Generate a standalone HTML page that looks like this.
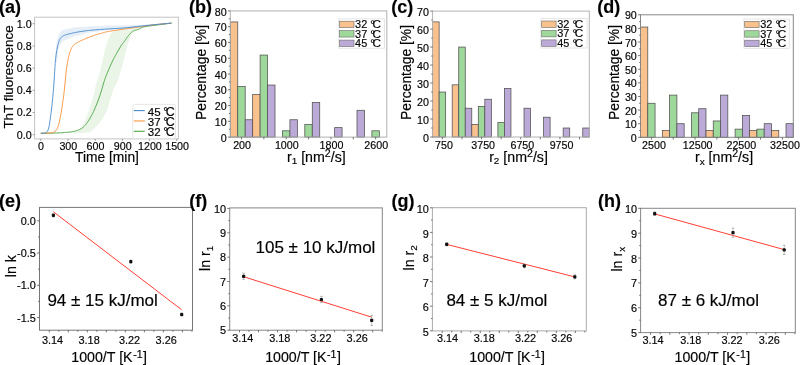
<!DOCTYPE html><html><head><meta charset="utf-8"><style>html,body{margin:0;padding:0;background:#fff;width:800px;height:365px;overflow:hidden}#w{position:absolute;left:0;top:0;width:800px;height:365px;will-change:transform}svg{display:block}text{font-family:"Liberation Sans", sans-serif}</style></head><body><div id="w">
<svg width="800" height="365" viewBox="0 0 800 365">
<rect width="800" height="365" fill="#fff"/>
<path d="M55.6,62 L55.6,52 L57.1,38.8 L60,32.5 L62.8,29.9 L75,27.3 L94.3,26.2 L110,25.6 L130,25.2 L150,24.5 L171.5,22.8 L171.5,23.4 L150,25.4 L130,27.8 L110,29.9 L99.8,31.2 L88.8,32.8 L75,36 L62.8,41.3 L60,45 L58.2,49.8 L57,62 Z" fill="#e6eef8" stroke="none"/>
<path d="M72,133.2 L79.3,130.2 L84.6,122.6 L89.1,110 L93.5,96 L96.2,84 L99.5,74 L102.6,61.3 L105,50 L107.6,41.6 L110.5,34.5 L114.5,31 L120,29.3 L126,28.3 L134,27.3 L142,26.5 L142,28.2 L136,30.3 L132,33.5 L127.5,45 L123.5,60 L120.5,72 L116.8,83 L113.8,88.2 L110,100 L107.2,110 L101.9,119.4 L97,126 L90,132.2 L74,133.5 Z" fill="#eaf4e7" stroke="none"/>
<rect x="34.6" y="17.2" width="143.8" height="121.7" fill="none" stroke="#c4c4c4" stroke-width="1.0"/>
<line x1="34.6" y1="134.7" x2="32.6" y2="134.7" stroke="#888" stroke-width="0.8"/>
<text x="31.6" y="138.6" font-size="10.7" text-anchor="end" stroke="#141414" stroke-width="0.18" >0.0</text>
<line x1="34.6" y1="112.5" x2="32.6" y2="112.5" stroke="#888" stroke-width="0.8"/>
<text x="31.6" y="116.4" font-size="10.7" text-anchor="end" stroke="#141414" stroke-width="0.18" >0.2</text>
<line x1="34.6" y1="90.3" x2="32.6" y2="90.3" stroke="#888" stroke-width="0.8"/>
<text x="31.6" y="94.2" font-size="10.7" text-anchor="end" stroke="#141414" stroke-width="0.18" >0.4</text>
<line x1="34.6" y1="68.1" x2="32.6" y2="68.1" stroke="#888" stroke-width="0.8"/>
<text x="31.6" y="72" font-size="10.7" text-anchor="end" stroke="#141414" stroke-width="0.18" >0.6</text>
<line x1="34.6" y1="45.9" x2="32.6" y2="45.9" stroke="#888" stroke-width="0.8"/>
<text x="31.6" y="49.8" font-size="10.7" text-anchor="end" stroke="#141414" stroke-width="0.18" >0.8</text>
<line x1="34.6" y1="23.7" x2="32.6" y2="23.7" stroke="#888" stroke-width="0.8"/>
<text x="31.6" y="27.6" font-size="10.7" text-anchor="end" stroke="#141414" stroke-width="0.18" >1.0</text>
<line x1="40.8" y1="138.9" x2="40.8" y2="140.9" stroke="#888" stroke-width="0.8"/>
<text x="41.1" y="150.3" font-size="10.7" text-anchor="middle" stroke="#141414" stroke-width="0.18" >0</text>
<line x1="68" y1="138.9" x2="68" y2="140.9" stroke="#888" stroke-width="0.8"/>
<text x="68.3" y="150.3" font-size="10.7" text-anchor="middle" stroke="#141414" stroke-width="0.18" >300</text>
<line x1="95.2" y1="138.9" x2="95.2" y2="140.9" stroke="#888" stroke-width="0.8"/>
<text x="95.5" y="150.3" font-size="10.7" text-anchor="middle" stroke="#141414" stroke-width="0.18" >600</text>
<line x1="122.4" y1="138.9" x2="122.4" y2="140.9" stroke="#888" stroke-width="0.8"/>
<text x="122.7" y="150.3" font-size="10.7" text-anchor="middle" stroke="#141414" stroke-width="0.18" >900</text>
<line x1="149.6" y1="138.9" x2="149.6" y2="140.9" stroke="#888" stroke-width="0.8"/>
<text x="149.9" y="150.3" font-size="10.7" text-anchor="middle" stroke="#141414" stroke-width="0.18" >1200</text>
<line x1="176.8" y1="138.9" x2="176.8" y2="140.9" stroke="#888" stroke-width="0.8"/>
<text x="177.1" y="150.3" font-size="10.7" text-anchor="middle" stroke="#141414" stroke-width="0.18" >1500</text>
<path d="M40.8,133.3 L41.02,133.3 L41.47,133.29 L42.13,133.28 L43.02,133.27 L44.13,133.25 L45.46,133.23 L47.01,133.21 L48.79,133.19 L50.5,133.16 L52.14,133.12 L53.72,133.08 L55.23,133.04 L56.68,132.99 L58.06,132.94 L59.38,132.88 L60.62,132.82 L61.86,132.75 L63.08,132.67 L64.28,132.58 L65.47,132.49 L66.64,132.39 L67.8,132.28 L68.94,132.16 L70.06,132.04 L71.14,131.9 L72.18,131.74 L73.17,131.56 L74.11,131.37 L75.01,131.15 L75.86,130.93 L76.67,130.68 L77.43,130.42 L78.17,130.13 L78.9,129.82 L79.61,129.49 L80.29,129.13 L80.96,128.75 L81.61,128.35 L82.24,127.92 L82.86,127.47 L83.47,126.97 L84.09,126.4 L84.7,125.77 L85.32,125.08 L85.94,124.33 L86.56,123.53 L87.19,122.66 L87.81,121.74 L88.43,120.8 L89.03,119.84 L89.63,118.86 L90.22,117.87 L90.8,116.85 L91.37,115.83 L91.92,114.78 L92.47,113.72 L93.04,112.58 L93.62,111.35 L94.22,110.05 L94.83,108.67 L95.46,107.21 L96.1,105.67 L96.76,104.05 L97.44,102.35 L98.1,100.62 L98.74,98.87 L99.37,97.08 L99.98,95.27 L100.58,93.43 L101.16,91.56 L101.73,89.66 L102.27,87.74 L102.79,85.96 L103.27,84.33 L103.72,82.84 L104.13,81.51 L104.51,80.32 L104.85,79.27 L105.16,78.38 L105.44,77.62 L105.76,76.77 L106.14,75.81 L106.56,74.75 L107.04,73.58 L107.56,72.3 L108.14,70.93 L108.76,69.44 L109.44,67.86 L110.1,66.34 L110.74,64.89 L111.37,63.51 L111.98,62.19 L112.58,60.95 L113.16,59.77 L113.73,58.67 L114.27,57.63 L114.84,56.58 L115.41,55.52 L116,54.45 L116.6,53.37 L117.21,52.28 L117.84,51.18 L118.48,50.06 L119.12,48.94 L119.74,47.9 L120.33,46.94 L120.88,46.06 L121.4,45.27 L121.88,44.55 L122.34,43.93 L122.76,43.38 L123.14,42.92 L123.53,42.43 L123.93,41.93 L124.32,41.4 L124.73,40.85 L125.13,40.28 L125.53,39.68 L125.94,39.07 L126.36,38.43 L126.77,37.81 L127.2,37.21 L127.63,36.62 L128.07,36.05 L128.51,35.5 L128.96,34.97 L129.42,34.45 L129.88,33.95 L130.32,33.48 L130.75,33.05 L131.16,32.66 L131.54,32.29 L131.91,31.97 L132.26,31.67 L132.59,31.41 L132.91,31.19 L133.23,30.98 L133.56,30.79 L133.91,30.62 L134.27,30.47 L134.63,30.34 L135.01,30.23 L135.4,30.14 L135.8,30.06 L136.19,29.98 L136.57,29.89 L136.93,29.79 L137.29,29.68 L137.64,29.57 L137.97,29.45 L138.29,29.32 L138.61,29.18 L138.93,29.03 L139.27,28.87 L139.62,28.69 L139.98,28.51 L140.36,28.31 L140.74,28.09 L141.14,27.87 L141.56,27.63 L142.13,27.4 L142.85,27.17 L143.74,26.94 L144.78,26.71 L145.99,26.49 L147.35,26.27 L148.86,26.06 L150.54,25.84 L152.24,25.63 L153.97,25.4 L155.72,25.18 L157.5,24.95 L159.31,24.71 L161.15,24.47 L163.01,24.23 L164.89,23.98 L166.55,23.76 L167.96,23.57 L169.14,23.41 L170.08,23.29 L170.79,23.19 L171.26,23.13 L171.5,23.1" fill="none" stroke="#4aa845" stroke-width="0.95"/>
<path d="M40.8,133.3 L41.02,133.3 L41.47,133.29 L42.13,133.27 L43.02,133.25 L44.13,133.23 L45.46,133.2 L47.01,133.17 L48.79,133.13 L50.4,132.98 L51.85,132.73 L53.14,132.36 L54.26,131.89 L55.23,131.3 L56.03,130.61 L56.66,129.81 L57.14,128.89 L57.61,127.76 L58.09,126.42 L58.56,124.85 L59.04,123.07 L59.51,121.07 L59.99,118.86 L60.46,116.43 L60.94,113.77 L61.38,111.2 L61.8,108.7 L62.19,106.27 L62.56,103.91 L62.89,101.63 L63.2,99.42 L63.48,97.28 L63.72,95.22 L63.97,93.16 L64.2,91.12 L64.42,89.08 L64.63,87.05 L64.83,85.02 L65.03,83.01 L65.21,81 L65.39,79 L65.58,77.02 L65.78,75.05 L66,73.09 L66.23,71.16 L66.47,69.23 L66.73,67.33 L67.01,65.44 L67.29,63.56 L67.6,61.77 L67.92,60.05 L68.25,58.41 L68.6,56.84 L68.97,55.36 L69.35,53.95 L69.74,52.62 L70.16,51.38 L70.58,50.22 L71.02,49.17 L71.47,48.21 L71.93,47.34 L72.41,46.58 L72.89,45.91 L73.39,45.34 L73.91,44.86 L74.48,44.39 L75.11,43.91 L75.8,43.44 L76.55,42.96 L77.36,42.49 L78.23,42.01 L79.16,41.54 L80.14,41.06 L81.18,40.58 L82.25,40.09 L83.37,39.6 L84.53,39.1 L85.74,38.59 L86.99,38.08 L88.28,37.56 L89.62,37.04 L90.9,36.55 L92.12,36.1 L93.28,35.68 L94.39,35.3 L95.44,34.95 L96.43,34.64 L97.36,34.37 L98.24,34.13 L99.09,33.9 L99.93,33.67 L100.74,33.44 L101.53,33.21 L102.31,32.99 L103.06,32.77 L103.79,32.56 L104.51,32.34 L105.31,32.13 L106.2,31.92 L107.19,31.71 L108.26,31.49 L109.43,31.28 L110.68,31.07 L112.03,30.86 L113.47,30.64 L115,30.42 L116.64,30.18 L118.37,29.92 L120.2,29.65 L122.13,29.37 L124.16,29.07 L126.29,28.76 L128.51,28.44 L130.73,28.11 L132.95,27.79 L135.16,27.46 L137.37,27.14 L139.57,26.81 L141.76,26.49 L143.96,26.16 L146.14,25.84 L148.33,25.53 L150.53,25.23 L152.73,24.96 L154.93,24.69 L157.13,24.45 L159.33,24.22 L161.54,24 L163.76,23.8 L165.69,23.63 L167.35,23.48 L168.73,23.35 L169.84,23.25 L170.67,23.18 L171.22,23.13 L171.5,23.1" fill="none" stroke="#f7953f" stroke-width="0.95"/>
<path d="M40.8,133.3 L40.91,133.3 L41.14,133.29 L41.47,133.27 L41.92,133.25 L42.49,133.23 L43.16,133.2 L43.95,133.17 L44.85,133.13 L45.68,132.86 L46.43,132.37 L47.11,131.64 L47.72,130.68 L48.25,129.5 L48.71,128.08 L49.09,126.44 L49.41,124.56 L49.71,122.64 L50.01,120.67 L50.31,118.66 L50.59,116.59 L50.87,114.48 L51.15,112.33 L51.42,110.12 L51.68,107.88 L51.94,105.59 L52.18,103.28 L52.42,100.94 L52.65,98.56 L52.88,96.16 L53.09,93.72 L53.3,91.25 L53.5,88.75 L53.69,86.38 L53.86,84.12 L54.02,82 L54.16,80 L54.29,78.12 L54.4,76.38 L54.51,74.75 L54.59,73.25 L54.68,71.78 L54.77,70.34 L54.86,68.94 L54.94,67.56 L55.03,66.22 L55.12,64.91 L55.21,63.62 L55.29,62.38 L55.4,61.11 L55.52,59.83 L55.65,58.53 L55.8,57.22 L55.97,55.89 L56.15,54.55 L56.34,53.19 L56.56,51.81 L56.78,50.49 L57,49.21 L57.24,47.99 L57.48,46.81 L57.74,45.69 L58,44.61 L58.26,43.59 L58.54,42.61 L58.83,41.71 L59.13,40.88 L59.44,40.12 L59.76,39.43 L60.1,38.82 L60.45,38.27 L60.81,37.8 L61.19,37.4 L61.58,37.03 L61.99,36.68 L62.42,36.36 L62.86,36.07 L63.32,35.8 L63.8,35.56 L64.29,35.34 L64.81,35.16 L65.37,34.96 L65.99,34.77 L66.65,34.57 L67.37,34.36 L68.14,34.15 L68.96,33.93 L69.84,33.71 L70.76,33.49 L71.68,33.27 L72.6,33.06 L73.52,32.86 L74.43,32.67 L75.34,32.48 L76.25,32.3 L77.15,32.13 L78.05,31.97 L78.97,31.81 L79.93,31.65 L80.9,31.5 L81.9,31.35 L82.93,31.2 L83.97,31.06 L85.05,30.92 L86.15,30.78 L87.27,30.65 L88.4,30.52 L89.54,30.4 L90.71,30.28 L91.88,30.16 L93.08,30.05 L94.29,29.95 L95.51,29.85 L96.75,29.75 L98,29.65 L99.27,29.56 L100.55,29.47 L101.85,29.37 L103.16,29.28 L104.48,29.19 L105.82,29.11 L107.23,29.02 L108.72,28.92 L110.28,28.83 L111.92,28.73 L113.63,28.62 L115.42,28.52 L117.28,28.41 L119.22,28.29 L121.21,28.16 L123.26,28 L125.36,27.82 L127.52,27.62 L129.73,27.4 L131.99,27.16 L134.31,26.89 L136.69,26.61 L139.18,26.32 L141.79,26.02 L144.52,25.73 L147.36,25.43 L150.32,25.12 L153.4,24.82 L156.59,24.51 L159.91,24.19 L162.8,23.92 L165.29,23.69 L167.36,23.49 L169.02,23.33 L170.26,23.22 L171.09,23.14 L171.5,23.1" fill="none" stroke="#4a8ccc" stroke-width="0.95"/>
<rect x="132.8" y="104.4" width="42.6" height="34.1" fill="#fff" fill-opacity="0.8" stroke="#e0e0e0" stroke-width="0.8" rx="1.5"/>
<line x1="133.8" y1="110.6" x2="144.7" y2="110.6" stroke="#4a8ccc" stroke-width="1.1"/>
<text x="147.8" y="115.6" font-size="11.5" text-anchor="start" stroke="#141414" stroke-width="0.18" >45 <tspan font-size="1.05em" dx="-0.04em">°</tspan><tspan dx="-0.2em" font-size="1.08em">C</tspan></text>
<line x1="133.8" y1="120.95" x2="144.7" y2="120.95" stroke="#f7953f" stroke-width="1.1"/>
<text x="147.8" y="125.95" font-size="11.5" text-anchor="start" stroke="#141414" stroke-width="0.18" >37 <tspan font-size="1.05em" dx="-0.04em">°</tspan><tspan dx="-0.2em" font-size="1.08em">C</tspan></text>
<line x1="133.8" y1="131.3" x2="144.7" y2="131.3" stroke="#4aa845" stroke-width="1.1"/>
<text x="147.8" y="136.3" font-size="11.5" text-anchor="start" stroke="#141414" stroke-width="0.18" >32 <tspan font-size="1.05em" dx="-0.04em">°</tspan><tspan dx="-0.2em" font-size="1.08em">C</tspan></text>
<text x="-0.9" y="12.9" font-size="18" text-anchor="start" font-weight="bold" stroke="#141414" stroke-width="0.18" >(a)</text>
<text x="12.7" y="77" font-size="13.4" text-anchor="middle" stroke="#141414" stroke-width="0.18" transform="rotate(-90 12.7 77)">ThT fluorescence</text>
<text x="107" y="161.6" font-size="13.8" text-anchor="middle" stroke="#141414" stroke-width="0.18" >Time [min]</text>
<rect x="230.3" y="21.94" width="7.45" height="115.16" fill="#f9c18d" stroke="#505050" stroke-width="0.75"/>
<rect x="237.75" y="86.62" width="7.45" height="50.48" fill="#9fd89b" stroke="#505050" stroke-width="0.75"/>
<rect x="245.2" y="119.75" width="7.45" height="17.35" fill="#bba9d7" stroke="#505050" stroke-width="0.75"/>
<rect x="252.66" y="94.51" width="7.45" height="42.59" fill="#f9c18d" stroke="#505050" stroke-width="0.75"/>
<rect x="260.11" y="55.07" width="7.45" height="82.03" fill="#9fd89b" stroke="#505050" stroke-width="0.75"/>
<rect x="267.56" y="85.04" width="7.45" height="52.06" fill="#bba9d7" stroke="#505050" stroke-width="0.75"/>
<rect x="282.47" y="130.79" width="7.45" height="6.31" fill="#9fd89b" stroke="#505050" stroke-width="0.75"/>
<rect x="289.92" y="119.75" width="7.45" height="17.35" fill="#bba9d7" stroke="#505050" stroke-width="0.75"/>
<rect x="304.82" y="124.48" width="7.45" height="12.62" fill="#9fd89b" stroke="#505050" stroke-width="0.75"/>
<rect x="312.28" y="102.39" width="7.45" height="34.7" fill="#bba9d7" stroke="#505050" stroke-width="0.75"/>
<rect x="334.63" y="127.63" width="7.45" height="9.46" fill="#bba9d7" stroke="#505050" stroke-width="0.75"/>
<rect x="356.99" y="110.28" width="7.45" height="26.82" fill="#bba9d7" stroke="#505050" stroke-width="0.75"/>
<rect x="371.9" y="130.79" width="7.45" height="6.31" fill="#9fd89b" stroke="#505050" stroke-width="0.75"/>
<rect x="230.3" y="10.9" width="156.5" height="126.2" fill="none" stroke="#b0b0b0" stroke-width="1.0"/>
<line x1="230.3" y1="137.1" x2="227.9" y2="137.1" stroke="#555" stroke-width="0.8"/>
<text x="226.6" y="141.7" font-size="10.7" text-anchor="end" stroke="#141414" stroke-width="0.18" >0</text>
<line x1="230.3" y1="129.21" x2="228.9" y2="129.21" stroke="#555" stroke-width="0.8"/>
<line x1="230.3" y1="121.32" x2="227.9" y2="121.32" stroke="#555" stroke-width="0.8"/>
<text x="226.6" y="125.92" font-size="10.7" text-anchor="end" stroke="#141414" stroke-width="0.18" >10</text>
<line x1="230.3" y1="113.44" x2="228.9" y2="113.44" stroke="#555" stroke-width="0.8"/>
<line x1="230.3" y1="105.55" x2="227.9" y2="105.55" stroke="#555" stroke-width="0.8"/>
<text x="226.6" y="110.15" font-size="10.7" text-anchor="end" stroke="#141414" stroke-width="0.18" >20</text>
<line x1="230.3" y1="97.66" x2="228.9" y2="97.66" stroke="#555" stroke-width="0.8"/>
<line x1="230.3" y1="89.78" x2="227.9" y2="89.78" stroke="#555" stroke-width="0.8"/>
<text x="226.6" y="94.38" font-size="10.7" text-anchor="end" stroke="#141414" stroke-width="0.18" >30</text>
<line x1="230.3" y1="81.89" x2="228.9" y2="81.89" stroke="#555" stroke-width="0.8"/>
<line x1="230.3" y1="74" x2="227.9" y2="74" stroke="#555" stroke-width="0.8"/>
<text x="226.6" y="78.6" font-size="10.7" text-anchor="end" stroke="#141414" stroke-width="0.18" >40</text>
<line x1="230.3" y1="66.11" x2="228.9" y2="66.11" stroke="#555" stroke-width="0.8"/>
<line x1="230.3" y1="58.22" x2="227.9" y2="58.22" stroke="#555" stroke-width="0.8"/>
<text x="226.6" y="62.82" font-size="10.7" text-anchor="end" stroke="#141414" stroke-width="0.18" >50</text>
<line x1="230.3" y1="50.34" x2="228.9" y2="50.34" stroke="#555" stroke-width="0.8"/>
<line x1="230.3" y1="42.45" x2="227.9" y2="42.45" stroke="#555" stroke-width="0.8"/>
<text x="226.6" y="47.05" font-size="10.7" text-anchor="end" stroke="#141414" stroke-width="0.18" >60</text>
<line x1="230.3" y1="34.56" x2="228.9" y2="34.56" stroke="#555" stroke-width="0.8"/>
<line x1="230.3" y1="26.67" x2="227.9" y2="26.67" stroke="#555" stroke-width="0.8"/>
<text x="226.6" y="31.27" font-size="10.7" text-anchor="end" stroke="#141414" stroke-width="0.18" >70</text>
<line x1="230.3" y1="18.79" x2="228.9" y2="18.79" stroke="#555" stroke-width="0.8"/>
<line x1="230.3" y1="10.9" x2="227.9" y2="10.9" stroke="#555" stroke-width="0.8"/>
<text x="226.6" y="15.5" font-size="10.7" text-anchor="end" stroke="#141414" stroke-width="0.18" >80</text>
<line x1="241.48" y1="137.1" x2="241.48" y2="139.4" stroke="#555" stroke-width="0.8"/>
<line x1="263.84" y1="137.1" x2="263.84" y2="139.4" stroke="#555" stroke-width="0.8"/>
<line x1="286.19" y1="137.1" x2="286.19" y2="139.4" stroke="#555" stroke-width="0.8"/>
<line x1="308.55" y1="137.1" x2="308.55" y2="139.4" stroke="#555" stroke-width="0.8"/>
<line x1="330.91" y1="137.1" x2="330.91" y2="139.4" stroke="#555" stroke-width="0.8"/>
<line x1="353.26" y1="137.1" x2="353.26" y2="139.4" stroke="#555" stroke-width="0.8"/>
<line x1="375.62" y1="137.1" x2="375.62" y2="139.4" stroke="#555" stroke-width="0.8"/>
<text x="242.08" y="148.8" font-size="10.7" text-anchor="middle" stroke="#141414" stroke-width="0.18" >200</text>
<text x="286.79" y="148.8" font-size="10.7" text-anchor="middle" stroke="#141414" stroke-width="0.18" >1000</text>
<text x="331.51" y="148.8" font-size="10.7" text-anchor="middle" stroke="#141414" stroke-width="0.18" >1800</text>
<text x="376.22" y="148.8" font-size="10.7" text-anchor="middle" stroke="#141414" stroke-width="0.18" >2600</text>
<text x="188.9" y="12.7" font-size="18" text-anchor="start" font-weight="bold" stroke="#141414" stroke-width="0.18" >(b)</text>
<text x="206.2" y="119.9" font-size="13.9" text-anchor="start" stroke="#141414" stroke-width="0.18" transform="rotate(-90 206.2 119.9)">Percentage [%]</text>
<text x="316.3" y="161.6" font-size="14.2" text-anchor="middle" stroke="#141414" stroke-width="0.18" >r<tspan font-size="9.94" dy="2.8">1</tspan><tspan dy="-2.8"> [nm</tspan><tspan font-size="10.6" dy="-4.4">2</tspan><tspan dy="4.4">/s]</tspan></text>
<rect x="338.8" y="18.9" width="45.8" height="29.3" fill="#fff" stroke="#dedede" stroke-width="0.8"/>
<rect x="339.6" y="21.2" width="14.4" height="6.4" fill="#f9c18d" stroke="#6a6a6a" stroke-width="0.6"/>
<text x="355.1" y="28.1" font-size="10.9" text-anchor="start" stroke="#141414" stroke-width="0.18" >32 <tspan font-size="1.05em" dx="0.01em">°</tspan><tspan dx="-0.2em" font-size="1.08em">C</tspan></text>
<rect x="339.6" y="30.65" width="14.4" height="6.4" fill="#9fd89b" stroke="#6a6a6a" stroke-width="0.6"/>
<text x="355.1" y="37.55" font-size="10.9" text-anchor="start" stroke="#141414" stroke-width="0.18" >37 <tspan font-size="1.05em" dx="0.01em">°</tspan><tspan dx="-0.2em" font-size="1.08em">C</tspan></text>
<rect x="339.6" y="40.1" width="14.4" height="6.4" fill="#bba9d7" stroke="#6a6a6a" stroke-width="0.6"/>
<text x="355.1" y="47" font-size="10.9" text-anchor="start" stroke="#141414" stroke-width="0.18" >45 <tspan font-size="1.05em" dx="0.01em">°</tspan><tspan dx="-0.2em" font-size="1.08em">C</tspan></text>
<rect x="432.6" y="21.89" width="6.53" height="115.11" fill="#f9c18d" stroke="#505050" stroke-width="0.75"/>
<rect x="439.13" y="92.04" width="6.53" height="44.96" fill="#9fd89b" stroke="#505050" stroke-width="0.75"/>
<rect x="452.19" y="84.84" width="6.53" height="52.16" fill="#f9c18d" stroke="#505050" stroke-width="0.75"/>
<rect x="458.72" y="47.07" width="6.53" height="89.93" fill="#9fd89b" stroke="#505050" stroke-width="0.75"/>
<rect x="465.25" y="108.22" width="6.53" height="28.78" fill="#bba9d7" stroke="#505050" stroke-width="0.75"/>
<rect x="471.77" y="124.41" width="6.53" height="12.59" fill="#f9c18d" stroke="#505050" stroke-width="0.75"/>
<rect x="478.3" y="106.42" width="6.53" height="30.58" fill="#9fd89b" stroke="#505050" stroke-width="0.75"/>
<rect x="484.83" y="99.23" width="6.53" height="37.77" fill="#bba9d7" stroke="#505050" stroke-width="0.75"/>
<rect x="497.89" y="122.61" width="6.53" height="14.39" fill="#9fd89b" stroke="#505050" stroke-width="0.75"/>
<rect x="504.42" y="88.44" width="6.53" height="48.56" fill="#bba9d7" stroke="#505050" stroke-width="0.75"/>
<rect x="524.01" y="108.22" width="6.53" height="28.78" fill="#bba9d7" stroke="#505050" stroke-width="0.75"/>
<rect x="543.6" y="117.22" width="6.53" height="19.78" fill="#bba9d7" stroke="#505050" stroke-width="0.75"/>
<rect x="563.18" y="128.01" width="6.53" height="8.99" fill="#bba9d7" stroke="#505050" stroke-width="0.75"/>
<rect x="582.77" y="128.01" width="6.53" height="8.99" fill="#bba9d7" stroke="#505050" stroke-width="0.75"/>
<rect x="432.6" y="11.1" width="156.7" height="125.9" fill="none" stroke="#b4b4b4" stroke-width="1.0"/>
<line x1="432.6" y1="137" x2="430.2" y2="137" stroke="#555" stroke-width="0.8"/>
<text x="428.9" y="141.6" font-size="10.7" text-anchor="end" stroke="#141414" stroke-width="0.18" >0</text>
<line x1="432.6" y1="128.01" x2="431.2" y2="128.01" stroke="#555" stroke-width="0.8"/>
<line x1="432.6" y1="119.01" x2="430.2" y2="119.01" stroke="#555" stroke-width="0.8"/>
<text x="428.9" y="123.61" font-size="10.7" text-anchor="end" stroke="#141414" stroke-width="0.18" >10</text>
<line x1="432.6" y1="110.02" x2="431.2" y2="110.02" stroke="#555" stroke-width="0.8"/>
<line x1="432.6" y1="101.03" x2="430.2" y2="101.03" stroke="#555" stroke-width="0.8"/>
<text x="428.9" y="105.63" font-size="10.7" text-anchor="end" stroke="#141414" stroke-width="0.18" >20</text>
<line x1="432.6" y1="92.04" x2="431.2" y2="92.04" stroke="#555" stroke-width="0.8"/>
<line x1="432.6" y1="83.04" x2="430.2" y2="83.04" stroke="#555" stroke-width="0.8"/>
<text x="428.9" y="87.64" font-size="10.7" text-anchor="end" stroke="#141414" stroke-width="0.18" >30</text>
<line x1="432.6" y1="74.05" x2="431.2" y2="74.05" stroke="#555" stroke-width="0.8"/>
<line x1="432.6" y1="65.06" x2="430.2" y2="65.06" stroke="#555" stroke-width="0.8"/>
<text x="428.9" y="69.66" font-size="10.7" text-anchor="end" stroke="#141414" stroke-width="0.18" >40</text>
<line x1="432.6" y1="56.06" x2="431.2" y2="56.06" stroke="#555" stroke-width="0.8"/>
<line x1="432.6" y1="47.07" x2="430.2" y2="47.07" stroke="#555" stroke-width="0.8"/>
<text x="428.9" y="51.67" font-size="10.7" text-anchor="end" stroke="#141414" stroke-width="0.18" >50</text>
<line x1="432.6" y1="38.08" x2="431.2" y2="38.08" stroke="#555" stroke-width="0.8"/>
<line x1="432.6" y1="29.09" x2="430.2" y2="29.09" stroke="#555" stroke-width="0.8"/>
<text x="428.9" y="33.69" font-size="10.7" text-anchor="end" stroke="#141414" stroke-width="0.18" >60</text>
<line x1="432.6" y1="20.09" x2="431.2" y2="20.09" stroke="#555" stroke-width="0.8"/>
<line x1="432.6" y1="11.1" x2="430.2" y2="11.1" stroke="#555" stroke-width="0.8"/>
<text x="428.9" y="15.7" font-size="10.7" text-anchor="end" stroke="#141414" stroke-width="0.18" >70</text>
<line x1="442.39" y1="137" x2="442.39" y2="139.3" stroke="#555" stroke-width="0.8"/>
<line x1="461.98" y1="137" x2="461.98" y2="139.3" stroke="#555" stroke-width="0.8"/>
<line x1="481.57" y1="137" x2="481.57" y2="139.3" stroke="#555" stroke-width="0.8"/>
<line x1="501.16" y1="137" x2="501.16" y2="139.3" stroke="#555" stroke-width="0.8"/>
<line x1="520.74" y1="137" x2="520.74" y2="139.3" stroke="#555" stroke-width="0.8"/>
<line x1="540.33" y1="137" x2="540.33" y2="139.3" stroke="#555" stroke-width="0.8"/>
<line x1="559.92" y1="137" x2="559.92" y2="139.3" stroke="#555" stroke-width="0.8"/>
<line x1="579.51" y1="137" x2="579.51" y2="139.3" stroke="#555" stroke-width="0.8"/>
<text x="443.99" y="148.7" font-size="10.7" text-anchor="middle" stroke="#141414" stroke-width="0.18" >750</text>
<text x="483.17" y="148.7" font-size="10.7" text-anchor="middle" stroke="#141414" stroke-width="0.18" >3750</text>
<text x="522.34" y="148.7" font-size="10.7" text-anchor="middle" stroke="#141414" stroke-width="0.18" >6750</text>
<text x="561.52" y="148.7" font-size="10.7" text-anchor="middle" stroke="#141414" stroke-width="0.18" >9750</text>
<text x="391.3" y="12.7" font-size="18" text-anchor="start" font-weight="bold" stroke="#141414" stroke-width="0.18" >(c)</text>
<text x="411" y="119.9" font-size="13.9" text-anchor="start" stroke="#141414" stroke-width="0.18" transform="rotate(-90 411 119.9)">Percentage [%]</text>
<text x="518.5" y="161.5" font-size="14.2" text-anchor="middle" stroke="#141414" stroke-width="0.18" >r<tspan font-size="9.94" dy="2.8">2</tspan><tspan dy="-2.8"> [nm</tspan><tspan font-size="10.6" dy="-4.4">2</tspan><tspan dy="4.4">/s]</tspan></text>
<rect x="540.9" y="18.7" width="46.2" height="29.3" fill="#fff" stroke="#dedede" stroke-width="0.8"/>
<rect x="541.7" y="21" width="14.4" height="6.4" fill="#f9c18d" stroke="#6a6a6a" stroke-width="0.6"/>
<text x="557.2" y="27.9" font-size="10.9" text-anchor="start" stroke="#141414" stroke-width="0.18" >32 <tspan font-size="1.05em" dx="0.01em">°</tspan><tspan dx="-0.2em" font-size="1.08em">C</tspan></text>
<rect x="541.7" y="30.45" width="14.4" height="6.4" fill="#9fd89b" stroke="#6a6a6a" stroke-width="0.6"/>
<text x="557.2" y="37.35" font-size="10.9" text-anchor="start" stroke="#141414" stroke-width="0.18" >37 <tspan font-size="1.05em" dx="0.01em">°</tspan><tspan dx="-0.2em" font-size="1.08em">C</tspan></text>
<rect x="541.7" y="39.9" width="14.4" height="6.4" fill="#bba9d7" stroke="#6a6a6a" stroke-width="0.6"/>
<text x="557.2" y="46.8" font-size="10.9" text-anchor="start" stroke="#141414" stroke-width="0.18" >45 <tspan font-size="1.05em" dx="0.01em">°</tspan><tspan dx="-0.2em" font-size="1.08em">C</tspan></text>
<rect x="640.5" y="27.05" width="7.28" height="110.25" fill="#f9c18d" stroke="#505050" stroke-width="0.75"/>
<rect x="647.78" y="103.27" width="7.28" height="34.03" fill="#9fd89b" stroke="#505050" stroke-width="0.75"/>
<rect x="662.33" y="130.49" width="7.28" height="6.81" fill="#f9c18d" stroke="#505050" stroke-width="0.75"/>
<rect x="669.6" y="95.11" width="7.28" height="42.19" fill="#9fd89b" stroke="#505050" stroke-width="0.75"/>
<rect x="676.88" y="123.69" width="7.28" height="13.61" fill="#bba9d7" stroke="#505050" stroke-width="0.75"/>
<rect x="691.43" y="112.8" width="7.28" height="24.5" fill="#9fd89b" stroke="#505050" stroke-width="0.75"/>
<rect x="698.71" y="108.72" width="7.28" height="28.58" fill="#bba9d7" stroke="#505050" stroke-width="0.75"/>
<rect x="705.99" y="130.49" width="7.28" height="6.81" fill="#f9c18d" stroke="#505050" stroke-width="0.75"/>
<rect x="713.26" y="120.97" width="7.28" height="16.33" fill="#9fd89b" stroke="#505050" stroke-width="0.75"/>
<rect x="720.54" y="95.11" width="7.28" height="42.19" fill="#bba9d7" stroke="#505050" stroke-width="0.75"/>
<rect x="735.09" y="129.13" width="7.28" height="8.17" fill="#9fd89b" stroke="#505050" stroke-width="0.75"/>
<rect x="742.37" y="115.52" width="7.28" height="21.78" fill="#bba9d7" stroke="#505050" stroke-width="0.75"/>
<rect x="749.64" y="130.49" width="7.28" height="6.81" fill="#f9c18d" stroke="#505050" stroke-width="0.75"/>
<rect x="756.92" y="129.13" width="7.28" height="8.17" fill="#9fd89b" stroke="#505050" stroke-width="0.75"/>
<rect x="764.2" y="123.69" width="7.28" height="13.61" fill="#bba9d7" stroke="#505050" stroke-width="0.75"/>
<rect x="771.47" y="130.49" width="7.28" height="6.81" fill="#f9c18d" stroke="#505050" stroke-width="0.75"/>
<rect x="786.02" y="123.69" width="7.28" height="13.61" fill="#bba9d7" stroke="#505050" stroke-width="0.75"/>
<rect x="640.5" y="14.8" width="152.8" height="122.5" fill="none" stroke="#888" stroke-width="1.0"/>
<line x1="640.5" y1="137.3" x2="638.1" y2="137.3" stroke="#555" stroke-width="0.8"/>
<text x="636.8" y="141.9" font-size="10.7" text-anchor="end" stroke="#141414" stroke-width="0.18" >0</text>
<line x1="640.5" y1="130.49" x2="639.1" y2="130.49" stroke="#555" stroke-width="0.8"/>
<line x1="640.5" y1="123.69" x2="638.1" y2="123.69" stroke="#555" stroke-width="0.8"/>
<text x="636.8" y="128.29" font-size="10.7" text-anchor="end" stroke="#141414" stroke-width="0.18" >10</text>
<line x1="640.5" y1="116.88" x2="639.1" y2="116.88" stroke="#555" stroke-width="0.8"/>
<line x1="640.5" y1="110.08" x2="638.1" y2="110.08" stroke="#555" stroke-width="0.8"/>
<text x="636.8" y="114.68" font-size="10.7" text-anchor="end" stroke="#141414" stroke-width="0.18" >20</text>
<line x1="640.5" y1="103.27" x2="639.1" y2="103.27" stroke="#555" stroke-width="0.8"/>
<line x1="640.5" y1="96.47" x2="638.1" y2="96.47" stroke="#555" stroke-width="0.8"/>
<text x="636.8" y="101.07" font-size="10.7" text-anchor="end" stroke="#141414" stroke-width="0.18" >30</text>
<line x1="640.5" y1="89.66" x2="639.1" y2="89.66" stroke="#555" stroke-width="0.8"/>
<line x1="640.5" y1="82.86" x2="638.1" y2="82.86" stroke="#555" stroke-width="0.8"/>
<text x="636.8" y="87.46" font-size="10.7" text-anchor="end" stroke="#141414" stroke-width="0.18" >40</text>
<line x1="640.5" y1="76.05" x2="639.1" y2="76.05" stroke="#555" stroke-width="0.8"/>
<line x1="640.5" y1="69.24" x2="638.1" y2="69.24" stroke="#555" stroke-width="0.8"/>
<text x="636.8" y="73.84" font-size="10.7" text-anchor="end" stroke="#141414" stroke-width="0.18" >50</text>
<line x1="640.5" y1="62.44" x2="639.1" y2="62.44" stroke="#555" stroke-width="0.8"/>
<line x1="640.5" y1="55.63" x2="638.1" y2="55.63" stroke="#555" stroke-width="0.8"/>
<text x="636.8" y="60.23" font-size="10.7" text-anchor="end" stroke="#141414" stroke-width="0.18" >60</text>
<line x1="640.5" y1="48.83" x2="639.1" y2="48.83" stroke="#555" stroke-width="0.8"/>
<line x1="640.5" y1="42.02" x2="638.1" y2="42.02" stroke="#555" stroke-width="0.8"/>
<text x="636.8" y="46.62" font-size="10.7" text-anchor="end" stroke="#141414" stroke-width="0.18" >70</text>
<line x1="640.5" y1="35.22" x2="639.1" y2="35.22" stroke="#555" stroke-width="0.8"/>
<line x1="640.5" y1="28.41" x2="638.1" y2="28.41" stroke="#555" stroke-width="0.8"/>
<text x="636.8" y="33.01" font-size="10.7" text-anchor="end" stroke="#141414" stroke-width="0.18" >80</text>
<line x1="640.5" y1="21.61" x2="639.1" y2="21.61" stroke="#555" stroke-width="0.8"/>
<line x1="640.5" y1="14.8" x2="638.1" y2="14.8" stroke="#555" stroke-width="0.8"/>
<text x="636.8" y="19.4" font-size="10.7" text-anchor="end" stroke="#141414" stroke-width="0.18" >90</text>
<line x1="651.41" y1="137.3" x2="651.41" y2="139.6" stroke="#555" stroke-width="0.8"/>
<line x1="673.24" y1="137.3" x2="673.24" y2="139.6" stroke="#555" stroke-width="0.8"/>
<line x1="695.07" y1="137.3" x2="695.07" y2="139.6" stroke="#555" stroke-width="0.8"/>
<line x1="716.9" y1="137.3" x2="716.9" y2="139.6" stroke="#555" stroke-width="0.8"/>
<line x1="738.73" y1="137.3" x2="738.73" y2="139.6" stroke="#555" stroke-width="0.8"/>
<line x1="760.56" y1="137.3" x2="760.56" y2="139.6" stroke="#555" stroke-width="0.8"/>
<line x1="782.39" y1="137.3" x2="782.39" y2="139.6" stroke="#555" stroke-width="0.8"/>
<text x="654.01" y="149" font-size="10.7" text-anchor="middle" stroke="#141414" stroke-width="0.18" >2500</text>
<text x="697.67" y="149" font-size="10.7" text-anchor="middle" stroke="#141414" stroke-width="0.18" >12500</text>
<text x="741.33" y="149" font-size="10.7" text-anchor="middle" stroke="#141414" stroke-width="0.18" >22500</text>
<text x="784.99" y="149" font-size="10.7" text-anchor="middle" stroke="#141414" stroke-width="0.18" >32500</text>
<text x="597.3" y="12.7" font-size="18" text-anchor="start" font-weight="bold" stroke="#141414" stroke-width="0.18" >(d)</text>
<text x="619.5" y="119.9" font-size="13.9" text-anchor="start" stroke="#141414" stroke-width="0.18" transform="rotate(-90 619.5 119.9)">Percentage [%]</text>
<text x="724" y="161.8" font-size="14.2" text-anchor="middle" stroke="#141414" stroke-width="0.18" >r<tspan font-size="9.94" dy="2.8">x</tspan><tspan dy="-2.8"> [nm</tspan><tspan font-size="10.6" dy="-4.4">2</tspan><tspan dy="4.4">/s]</tspan></text>
<rect x="743.9" y="19" width="45.4" height="29.3" fill="#fff" stroke="#dedede" stroke-width="0.8"/>
<rect x="744.7" y="21.3" width="14.4" height="6.4" fill="#f9c18d" stroke="#6a6a6a" stroke-width="0.6"/>
<text x="760.2" y="28.2" font-size="10.9" text-anchor="start" stroke="#141414" stroke-width="0.18" >32 <tspan font-size="1.05em" dx="0.01em">°</tspan><tspan dx="-0.2em" font-size="1.08em">C</tspan></text>
<rect x="744.7" y="30.75" width="14.4" height="6.4" fill="#9fd89b" stroke="#6a6a6a" stroke-width="0.6"/>
<text x="760.2" y="37.65" font-size="10.9" text-anchor="start" stroke="#141414" stroke-width="0.18" >37 <tspan font-size="1.05em" dx="0.01em">°</tspan><tspan dx="-0.2em" font-size="1.08em">C</tspan></text>
<rect x="744.7" y="40.2" width="14.4" height="6.4" fill="#bba9d7" stroke="#6a6a6a" stroke-width="0.6"/>
<text x="760.2" y="47.1" font-size="10.9" text-anchor="start" stroke="#141414" stroke-width="0.18" >45 <tspan font-size="1.05em" dx="0.01em">°</tspan><tspan dx="-0.2em" font-size="1.08em">C</tspan></text>
<rect x="39.5" y="207.4" width="153" height="122.8" fill="none" stroke="#777" stroke-width="1.0"/>
<line x1="39.5" y1="220.8" x2="37.1" y2="220.8" stroke="#555" stroke-width="0.8"/>
<text x="35.9" y="224.9" font-size="10.9" text-anchor="end" stroke="#141414" stroke-width="0.18" >0.0</text>
<line x1="39.5" y1="253.04" x2="37.1" y2="253.04" stroke="#555" stroke-width="0.8"/>
<text x="35.9" y="257.14" font-size="10.9" text-anchor="end" stroke="#141414" stroke-width="0.18" >-0.5</text>
<line x1="39.5" y1="285.27" x2="37.1" y2="285.27" stroke="#555" stroke-width="0.8"/>
<text x="35.9" y="289.37" font-size="10.9" text-anchor="end" stroke="#141414" stroke-width="0.18" >-1.0</text>
<line x1="39.5" y1="317.5" x2="37.1" y2="317.5" stroke="#555" stroke-width="0.8"/>
<text x="35.9" y="321.61" font-size="10.9" text-anchor="end" stroke="#141414" stroke-width="0.18" >-1.5</text>
<line x1="39.5" y1="236.92" x2="38.1" y2="236.92" stroke="#555" stroke-width="0.8"/>
<line x1="39.5" y1="269.15" x2="38.1" y2="269.15" stroke="#555" stroke-width="0.8"/>
<line x1="39.5" y1="301.39" x2="38.1" y2="301.39" stroke="#555" stroke-width="0.8"/>
<line x1="49.3" y1="330.2" x2="49.3" y2="332.4" stroke="#555" stroke-width="0.8"/>
<line x1="58.81" y1="330.2" x2="58.81" y2="331.8" stroke="#555" stroke-width="0.8"/>
<line x1="68.32" y1="330.2" x2="68.32" y2="332.4" stroke="#555" stroke-width="0.8"/>
<line x1="77.83" y1="330.2" x2="77.83" y2="331.8" stroke="#555" stroke-width="0.8"/>
<line x1="87.34" y1="330.2" x2="87.34" y2="332.4" stroke="#555" stroke-width="0.8"/>
<line x1="96.85" y1="330.2" x2="96.85" y2="331.8" stroke="#555" stroke-width="0.8"/>
<line x1="106.36" y1="330.2" x2="106.36" y2="332.4" stroke="#555" stroke-width="0.8"/>
<line x1="115.87" y1="330.2" x2="115.87" y2="331.8" stroke="#555" stroke-width="0.8"/>
<line x1="125.38" y1="330.2" x2="125.38" y2="332.4" stroke="#555" stroke-width="0.8"/>
<line x1="134.89" y1="330.2" x2="134.89" y2="331.8" stroke="#555" stroke-width="0.8"/>
<line x1="144.4" y1="330.2" x2="144.4" y2="332.4" stroke="#555" stroke-width="0.8"/>
<line x1="153.91" y1="330.2" x2="153.91" y2="331.8" stroke="#555" stroke-width="0.8"/>
<line x1="163.42" y1="330.2" x2="163.42" y2="332.4" stroke="#555" stroke-width="0.8"/>
<line x1="172.93" y1="330.2" x2="172.93" y2="331.8" stroke="#555" stroke-width="0.8"/>
<line x1="182.44" y1="330.2" x2="182.44" y2="332.4" stroke="#555" stroke-width="0.8"/>
<line x1="191.95" y1="330.2" x2="191.95" y2="331.8" stroke="#555" stroke-width="0.8"/>
<text x="52.6" y="344.4" font-size="10.9" text-anchor="middle" stroke="#141414" stroke-width="0.18" >3.14</text>
<text x="89.14" y="344.4" font-size="10.9" text-anchor="middle" stroke="#141414" stroke-width="0.18" >3.18</text>
<text x="129.58" y="344.4" font-size="10.9" text-anchor="middle" stroke="#141414" stroke-width="0.18" >3.22</text>
<text x="166.22" y="344.4" font-size="10.9" text-anchor="middle" stroke="#141414" stroke-width="0.18" >3.26</text>
<line x1="53.4" y1="211.8" x2="181.7" y2="309.8" stroke="#ff4036" stroke-width="1.0"/>
<line x1="53.4" y1="213.7" x2="53.4" y2="216.9" stroke="#9a9a9a" stroke-width="0.6"/>
<line x1="52.1" y1="213.7" x2="54.7" y2="213.7" stroke="#9a9a9a" stroke-width="0.7"/>
<line x1="52.1" y1="216.9" x2="54.7" y2="216.9" stroke="#9a9a9a" stroke-width="0.7"/>
<rect x="51.8" y="213.7" width="3.2" height="3.2" rx="0.9" fill="#111"/>
<line x1="130.8" y1="260" x2="130.8" y2="263.2" stroke="#9a9a9a" stroke-width="0.6"/>
<line x1="129.5" y1="260" x2="132.1" y2="260" stroke="#9a9a9a" stroke-width="0.7"/>
<line x1="129.5" y1="263.2" x2="132.1" y2="263.2" stroke="#9a9a9a" stroke-width="0.7"/>
<rect x="129.2" y="260" width="3.2" height="3.2" rx="0.9" fill="#111"/>
<line x1="181.7" y1="312.9" x2="181.7" y2="316.1" stroke="#9a9a9a" stroke-width="0.6"/>
<line x1="180.4" y1="312.9" x2="183" y2="312.9" stroke="#9a9a9a" stroke-width="0.7"/>
<line x1="180.4" y1="316.1" x2="183" y2="316.1" stroke="#9a9a9a" stroke-width="0.7"/>
<rect x="180.1" y="312.9" width="3.2" height="3.2" rx="0.9" fill="#111"/>
<text x="-0.9" y="206.5" font-size="18" text-anchor="start" font-weight="bold" stroke="#141414" stroke-width="0.18" >(e)</text>
<text x="16.2" y="266.2" font-size="14.2" text-anchor="middle" stroke="#141414" stroke-width="0.18" transform="rotate(-90 16.2 266.2)">ln k</text>
<text x="47.4" y="305.8" font-size="17" text-anchor="start" stroke="#141414" stroke-width="0.18" >94 ± 15 kJ/mol</text>
<text x="71.3" y="362.1" font-size="14.2" text-anchor="start" stroke="#141414" stroke-width="0.18" >1000/T [K<tspan font-size="10.6" dy="-3.7" dx="0.6">-1</tspan><tspan dy="3.7" dx="0.5">]</tspan></text>
<rect x="229.7" y="207.9" width="152.6" height="122.3" fill="none" stroke="#858585" stroke-width="1.0"/>
<line x1="229.7" y1="330.2" x2="227.3" y2="330.2" stroke="#555" stroke-width="0.8"/>
<text x="226.1" y="334.3" font-size="10.9" text-anchor="end" stroke="#141414" stroke-width="0.18" >5</text>
<line x1="229.7" y1="305.85" x2="227.3" y2="305.85" stroke="#555" stroke-width="0.8"/>
<text x="226.1" y="309.95" font-size="10.9" text-anchor="end" stroke="#141414" stroke-width="0.18" >6</text>
<line x1="229.7" y1="281.5" x2="227.3" y2="281.5" stroke="#555" stroke-width="0.8"/>
<text x="226.1" y="285.6" font-size="10.9" text-anchor="end" stroke="#141414" stroke-width="0.18" >7</text>
<line x1="229.7" y1="257.15" x2="227.3" y2="257.15" stroke="#555" stroke-width="0.8"/>
<text x="226.1" y="261.25" font-size="10.9" text-anchor="end" stroke="#141414" stroke-width="0.18" >8</text>
<line x1="229.7" y1="232.8" x2="227.3" y2="232.8" stroke="#555" stroke-width="0.8"/>
<text x="226.1" y="236.9" font-size="10.9" text-anchor="end" stroke="#141414" stroke-width="0.18" >9</text>
<line x1="229.7" y1="208.45" x2="227.3" y2="208.45" stroke="#555" stroke-width="0.8"/>
<text x="226.1" y="212.55" font-size="10.9" text-anchor="end" stroke="#141414" stroke-width="0.18" >10</text>
<line x1="229.7" y1="318.02" x2="228.3" y2="318.02" stroke="#555" stroke-width="0.8"/>
<line x1="229.7" y1="293.67" x2="228.3" y2="293.67" stroke="#555" stroke-width="0.8"/>
<line x1="229.7" y1="269.32" x2="228.3" y2="269.32" stroke="#555" stroke-width="0.8"/>
<line x1="229.7" y1="244.97" x2="228.3" y2="244.97" stroke="#555" stroke-width="0.8"/>
<line x1="229.7" y1="220.62" x2="228.3" y2="220.62" stroke="#555" stroke-width="0.8"/>
<line x1="239.5" y1="330.2" x2="239.5" y2="332.4" stroke="#555" stroke-width="0.8"/>
<line x1="249.01" y1="330.2" x2="249.01" y2="331.8" stroke="#555" stroke-width="0.8"/>
<line x1="258.52" y1="330.2" x2="258.52" y2="332.4" stroke="#555" stroke-width="0.8"/>
<line x1="268.03" y1="330.2" x2="268.03" y2="331.8" stroke="#555" stroke-width="0.8"/>
<line x1="277.54" y1="330.2" x2="277.54" y2="332.4" stroke="#555" stroke-width="0.8"/>
<line x1="287.05" y1="330.2" x2="287.05" y2="331.8" stroke="#555" stroke-width="0.8"/>
<line x1="296.56" y1="330.2" x2="296.56" y2="332.4" stroke="#555" stroke-width="0.8"/>
<line x1="306.07" y1="330.2" x2="306.07" y2="331.8" stroke="#555" stroke-width="0.8"/>
<line x1="315.58" y1="330.2" x2="315.58" y2="332.4" stroke="#555" stroke-width="0.8"/>
<line x1="325.09" y1="330.2" x2="325.09" y2="331.8" stroke="#555" stroke-width="0.8"/>
<line x1="334.6" y1="330.2" x2="334.6" y2="332.4" stroke="#555" stroke-width="0.8"/>
<line x1="344.11" y1="330.2" x2="344.11" y2="331.8" stroke="#555" stroke-width="0.8"/>
<line x1="353.62" y1="330.2" x2="353.62" y2="332.4" stroke="#555" stroke-width="0.8"/>
<line x1="363.13" y1="330.2" x2="363.13" y2="331.8" stroke="#555" stroke-width="0.8"/>
<line x1="372.64" y1="330.2" x2="372.64" y2="332.4" stroke="#555" stroke-width="0.8"/>
<line x1="382.15" y1="330.2" x2="382.15" y2="331.8" stroke="#555" stroke-width="0.8"/>
<text x="242.8" y="341.8" font-size="10.9" text-anchor="middle" stroke="#141414" stroke-width="0.18" >3.14</text>
<text x="279.84" y="341.8" font-size="10.9" text-anchor="middle" stroke="#141414" stroke-width="0.18" >3.18</text>
<text x="320.88" y="341.8" font-size="10.9" text-anchor="middle" stroke="#141414" stroke-width="0.18" >3.22</text>
<text x="357.22" y="341.8" font-size="10.9" text-anchor="middle" stroke="#141414" stroke-width="0.18" >3.26</text>
<line x1="243.6" y1="276.7" x2="371.7" y2="317.2" stroke="#ff4036" stroke-width="1.0"/>
<line x1="243.6" y1="273.2" x2="243.6" y2="279.4" stroke="#9a9a9a" stroke-width="0.6"/>
<line x1="242.3" y1="273.2" x2="244.9" y2="273.2" stroke="#9a9a9a" stroke-width="0.7"/>
<line x1="242.3" y1="279.4" x2="244.9" y2="279.4" stroke="#9a9a9a" stroke-width="0.7"/>
<rect x="242" y="274.7" width="3.2" height="3.2" rx="0.9" fill="#111"/>
<line x1="321.4" y1="296.4" x2="321.4" y2="302.6" stroke="#9a9a9a" stroke-width="0.6"/>
<line x1="320.1" y1="296.4" x2="322.7" y2="296.4" stroke="#9a9a9a" stroke-width="0.7"/>
<line x1="320.1" y1="302.6" x2="322.7" y2="302.6" stroke="#9a9a9a" stroke-width="0.7"/>
<rect x="319.8" y="297.9" width="3.2" height="3.2" rx="0.9" fill="#111"/>
<line x1="371.7" y1="315.3" x2="371.7" y2="325.5" stroke="#9a9a9a" stroke-width="0.6"/>
<line x1="370.4" y1="315.3" x2="373" y2="315.3" stroke="#9a9a9a" stroke-width="0.7"/>
<line x1="370.4" y1="325.5" x2="373" y2="325.5" stroke="#9a9a9a" stroke-width="0.7"/>
<rect x="370.1" y="318.8" width="3.2" height="3.2" rx="0.9" fill="#111"/>
<text x="189.2" y="206.5" font-size="18" text-anchor="start" font-weight="bold" stroke="#141414" stroke-width="0.18" >(f)</text>
<text x="210.2" y="258.3" font-size="14.2" text-anchor="middle" stroke="#141414" stroke-width="0.18" transform="rotate(-90 210.2 258.3)">ln r<tspan font-size="9.94" dy="2.8">1</tspan></text>
<text x="255.5" y="252.8" font-size="17" text-anchor="start" stroke="#141414" stroke-width="0.18" >105 ± 10 kJ/mol</text>
<text x="265.2" y="362.1" font-size="14.2" text-anchor="start" stroke="#141414" stroke-width="0.18" >1000/T [K<tspan font-size="10.6" dy="-3.7" dx="0.6">-1</tspan><tspan dy="3.7" dx="0.5">]</tspan></text>
<rect x="432.4" y="207.7" width="153.9" height="123.2" fill="none" stroke="#ababab" stroke-width="1.0"/>
<line x1="432.4" y1="330.8" x2="430" y2="330.8" stroke="#555" stroke-width="0.8"/>
<text x="428.8" y="335.9" font-size="10.9" text-anchor="end" stroke="#141414" stroke-width="0.18" >5</text>
<line x1="432.4" y1="306.2" x2="430" y2="306.2" stroke="#555" stroke-width="0.8"/>
<text x="428.8" y="311.3" font-size="10.9" text-anchor="end" stroke="#141414" stroke-width="0.18" >6</text>
<line x1="432.4" y1="281.6" x2="430" y2="281.6" stroke="#555" stroke-width="0.8"/>
<text x="428.8" y="286.7" font-size="10.9" text-anchor="end" stroke="#141414" stroke-width="0.18" >7</text>
<line x1="432.4" y1="257" x2="430" y2="257" stroke="#555" stroke-width="0.8"/>
<text x="428.8" y="262.1" font-size="10.9" text-anchor="end" stroke="#141414" stroke-width="0.18" >8</text>
<line x1="432.4" y1="232.4" x2="430" y2="232.4" stroke="#555" stroke-width="0.8"/>
<text x="428.8" y="237.5" font-size="10.9" text-anchor="end" stroke="#141414" stroke-width="0.18" >9</text>
<line x1="432.4" y1="207.8" x2="430" y2="207.8" stroke="#555" stroke-width="0.8"/>
<text x="428.8" y="212.9" font-size="10.9" text-anchor="end" stroke="#141414" stroke-width="0.18" >10</text>
<line x1="432.4" y1="318.5" x2="431" y2="318.5" stroke="#555" stroke-width="0.8"/>
<line x1="432.4" y1="293.9" x2="431" y2="293.9" stroke="#555" stroke-width="0.8"/>
<line x1="432.4" y1="269.3" x2="431" y2="269.3" stroke="#555" stroke-width="0.8"/>
<line x1="432.4" y1="244.7" x2="431" y2="244.7" stroke="#555" stroke-width="0.8"/>
<line x1="432.4" y1="220.1" x2="431" y2="220.1" stroke="#555" stroke-width="0.8"/>
<line x1="442.2" y1="330.9" x2="442.2" y2="333.1" stroke="#555" stroke-width="0.8"/>
<line x1="451.71" y1="330.9" x2="451.71" y2="332.5" stroke="#555" stroke-width="0.8"/>
<line x1="461.22" y1="330.9" x2="461.22" y2="333.1" stroke="#555" stroke-width="0.8"/>
<line x1="470.73" y1="330.9" x2="470.73" y2="332.5" stroke="#555" stroke-width="0.8"/>
<line x1="480.24" y1="330.9" x2="480.24" y2="333.1" stroke="#555" stroke-width="0.8"/>
<line x1="489.75" y1="330.9" x2="489.75" y2="332.5" stroke="#555" stroke-width="0.8"/>
<line x1="499.26" y1="330.9" x2="499.26" y2="333.1" stroke="#555" stroke-width="0.8"/>
<line x1="508.77" y1="330.9" x2="508.77" y2="332.5" stroke="#555" stroke-width="0.8"/>
<line x1="518.28" y1="330.9" x2="518.28" y2="333.1" stroke="#555" stroke-width="0.8"/>
<line x1="527.79" y1="330.9" x2="527.79" y2="332.5" stroke="#555" stroke-width="0.8"/>
<line x1="537.3" y1="330.9" x2="537.3" y2="333.1" stroke="#555" stroke-width="0.8"/>
<line x1="546.81" y1="330.9" x2="546.81" y2="332.5" stroke="#555" stroke-width="0.8"/>
<line x1="556.32" y1="330.9" x2="556.32" y2="333.1" stroke="#555" stroke-width="0.8"/>
<line x1="565.83" y1="330.9" x2="565.83" y2="332.5" stroke="#555" stroke-width="0.8"/>
<line x1="575.34" y1="330.9" x2="575.34" y2="333.1" stroke="#555" stroke-width="0.8"/>
<line x1="584.85" y1="330.9" x2="584.85" y2="332.5" stroke="#555" stroke-width="0.8"/>
<text x="447.5" y="342.1" font-size="10.9" text-anchor="middle" stroke="#141414" stroke-width="0.18" >3.14</text>
<text x="484.34" y="342.1" font-size="10.9" text-anchor="middle" stroke="#141414" stroke-width="0.18" >3.18</text>
<text x="525.58" y="342.1" font-size="10.9" text-anchor="middle" stroke="#141414" stroke-width="0.18" >3.22</text>
<text x="561.82" y="342.1" font-size="10.9" text-anchor="middle" stroke="#141414" stroke-width="0.18" >3.26</text>
<line x1="446.7" y1="244.4" x2="574.8" y2="276.9" stroke="#ff4036" stroke-width="1.0"/>
<line x1="446.7" y1="242.7" x2="446.7" y2="245.9" stroke="#9a9a9a" stroke-width="0.6"/>
<line x1="445.4" y1="242.7" x2="448" y2="242.7" stroke="#9a9a9a" stroke-width="0.7"/>
<line x1="445.4" y1="245.9" x2="448" y2="245.9" stroke="#9a9a9a" stroke-width="0.7"/>
<rect x="445.1" y="242.7" width="3.2" height="3.2" rx="0.9" fill="#111"/>
<line x1="524.3" y1="264.1" x2="524.3" y2="267.7" stroke="#9a9a9a" stroke-width="0.6"/>
<line x1="523" y1="264.1" x2="525.6" y2="264.1" stroke="#9a9a9a" stroke-width="0.7"/>
<line x1="523" y1="267.7" x2="525.6" y2="267.7" stroke="#9a9a9a" stroke-width="0.7"/>
<rect x="522.7" y="264.3" width="3.2" height="3.2" rx="0.9" fill="#111"/>
<line x1="574.8" y1="274.8" x2="574.8" y2="278.8" stroke="#9a9a9a" stroke-width="0.6"/>
<line x1="573.5" y1="274.8" x2="576.1" y2="274.8" stroke="#9a9a9a" stroke-width="0.7"/>
<line x1="573.5" y1="278.8" x2="576.1" y2="278.8" stroke="#9a9a9a" stroke-width="0.7"/>
<rect x="573.2" y="275.2" width="3.2" height="3.2" rx="0.9" fill="#111"/>
<text x="391.6" y="206.5" font-size="18" text-anchor="start" font-weight="bold" stroke="#141414" stroke-width="0.18" >(g)</text>
<text x="414.4" y="257.8" font-size="14.2" text-anchor="middle" stroke="#141414" stroke-width="0.18" transform="rotate(-90 414.4 257.8)">ln r<tspan font-size="9.94" dy="2.8">2</tspan></text>
<text x="446.4" y="305.6" font-size="17" text-anchor="start" stroke="#141414" stroke-width="0.18" >84 ± 5 kJ/mol</text>
<text x="469.3" y="362.1" font-size="14.2" text-anchor="start" stroke="#141414" stroke-width="0.18" >1000/T [K<tspan font-size="10.6" dy="-3.7" dx="0.6">-1</tspan><tspan dy="3.7" dx="0.5">]</tspan></text>
<rect x="640.6" y="208.3" width="154.7" height="124.3" fill="none" stroke="#888" stroke-width="1.0"/>
<line x1="640.6" y1="332.6" x2="638.2" y2="332.6" stroke="#555" stroke-width="0.8"/>
<text x="637" y="337.2" font-size="10.9" text-anchor="end" stroke="#141414" stroke-width="0.18" >5</text>
<line x1="640.6" y1="307.74" x2="638.2" y2="307.74" stroke="#555" stroke-width="0.8"/>
<text x="637" y="312.34" font-size="10.9" text-anchor="end" stroke="#141414" stroke-width="0.18" >6</text>
<line x1="640.6" y1="282.88" x2="638.2" y2="282.88" stroke="#555" stroke-width="0.8"/>
<text x="637" y="287.48" font-size="10.9" text-anchor="end" stroke="#141414" stroke-width="0.18" >7</text>
<line x1="640.6" y1="258.02" x2="638.2" y2="258.02" stroke="#555" stroke-width="0.8"/>
<text x="637" y="262.62" font-size="10.9" text-anchor="end" stroke="#141414" stroke-width="0.18" >8</text>
<line x1="640.6" y1="233.16" x2="638.2" y2="233.16" stroke="#555" stroke-width="0.8"/>
<text x="637" y="237.76" font-size="10.9" text-anchor="end" stroke="#141414" stroke-width="0.18" >9</text>
<line x1="640.6" y1="208.3" x2="638.2" y2="208.3" stroke="#555" stroke-width="0.8"/>
<text x="637" y="212.9" font-size="10.9" text-anchor="end" stroke="#141414" stroke-width="0.18" >10</text>
<line x1="640.6" y1="320.17" x2="639.2" y2="320.17" stroke="#555" stroke-width="0.8"/>
<line x1="640.6" y1="295.31" x2="639.2" y2="295.31" stroke="#555" stroke-width="0.8"/>
<line x1="640.6" y1="270.45" x2="639.2" y2="270.45" stroke="#555" stroke-width="0.8"/>
<line x1="640.6" y1="245.59" x2="639.2" y2="245.59" stroke="#555" stroke-width="0.8"/>
<line x1="640.6" y1="220.73" x2="639.2" y2="220.73" stroke="#555" stroke-width="0.8"/>
<line x1="650.6" y1="332.6" x2="650.6" y2="334.8" stroke="#555" stroke-width="0.8"/>
<line x1="660.22" y1="332.6" x2="660.22" y2="334.2" stroke="#555" stroke-width="0.8"/>
<line x1="669.84" y1="332.6" x2="669.84" y2="334.8" stroke="#555" stroke-width="0.8"/>
<line x1="679.46" y1="332.6" x2="679.46" y2="334.2" stroke="#555" stroke-width="0.8"/>
<line x1="689.08" y1="332.6" x2="689.08" y2="334.8" stroke="#555" stroke-width="0.8"/>
<line x1="698.7" y1="332.6" x2="698.7" y2="334.2" stroke="#555" stroke-width="0.8"/>
<line x1="708.32" y1="332.6" x2="708.32" y2="334.8" stroke="#555" stroke-width="0.8"/>
<line x1="717.94" y1="332.6" x2="717.94" y2="334.2" stroke="#555" stroke-width="0.8"/>
<line x1="727.56" y1="332.6" x2="727.56" y2="334.8" stroke="#555" stroke-width="0.8"/>
<line x1="737.18" y1="332.6" x2="737.18" y2="334.2" stroke="#555" stroke-width="0.8"/>
<line x1="746.8" y1="332.6" x2="746.8" y2="334.8" stroke="#555" stroke-width="0.8"/>
<line x1="756.42" y1="332.6" x2="756.42" y2="334.2" stroke="#555" stroke-width="0.8"/>
<line x1="766.04" y1="332.6" x2="766.04" y2="334.8" stroke="#555" stroke-width="0.8"/>
<line x1="775.66" y1="332.6" x2="775.66" y2="334.2" stroke="#555" stroke-width="0.8"/>
<line x1="785.28" y1="332.6" x2="785.28" y2="334.8" stroke="#555" stroke-width="0.8"/>
<line x1="794.9" y1="332.6" x2="794.9" y2="334.2" stroke="#555" stroke-width="0.8"/>
<text x="653.1" y="344.4" font-size="10.9" text-anchor="middle" stroke="#141414" stroke-width="0.18" >3.14</text>
<text x="690.78" y="344.4" font-size="10.9" text-anchor="middle" stroke="#141414" stroke-width="0.18" >3.18</text>
<text x="732.06" y="344.4" font-size="10.9" text-anchor="middle" stroke="#141414" stroke-width="0.18" >3.22</text>
<text x="769.34" y="344.4" font-size="10.9" text-anchor="middle" stroke="#141414" stroke-width="0.18" >3.26</text>
<line x1="654.7" y1="213.9" x2="784.2" y2="249.6" stroke="#ff4036" stroke-width="1.0"/>
<line x1="654.7" y1="211.9" x2="654.7" y2="215.5" stroke="#9a9a9a" stroke-width="0.6"/>
<line x1="653.4" y1="211.9" x2="656" y2="211.9" stroke="#9a9a9a" stroke-width="0.7"/>
<line x1="653.4" y1="215.5" x2="656" y2="215.5" stroke="#9a9a9a" stroke-width="0.7"/>
<rect x="653.1" y="212.1" width="3.2" height="3.2" rx="0.9" fill="#111"/>
<line x1="733" y1="228.1" x2="733" y2="237.3" stroke="#9a9a9a" stroke-width="0.6"/>
<line x1="731.7" y1="228.1" x2="734.3" y2="228.1" stroke="#9a9a9a" stroke-width="0.7"/>
<line x1="731.7" y1="237.3" x2="734.3" y2="237.3" stroke="#9a9a9a" stroke-width="0.7"/>
<rect x="731.4" y="231.1" width="3.2" height="3.2" rx="0.9" fill="#111"/>
<line x1="784.2" y1="245.3" x2="784.2" y2="254.5" stroke="#9a9a9a" stroke-width="0.6"/>
<line x1="782.9" y1="245.3" x2="785.5" y2="245.3" stroke="#9a9a9a" stroke-width="0.7"/>
<line x1="782.9" y1="254.5" x2="785.5" y2="254.5" stroke="#9a9a9a" stroke-width="0.7"/>
<rect x="782.6" y="248.3" width="3.2" height="3.2" rx="0.9" fill="#111"/>
<text x="597.9" y="206.5" font-size="18" text-anchor="start" font-weight="bold" stroke="#141414" stroke-width="0.18" >(h)</text>
<text x="622" y="259.2" font-size="14.2" text-anchor="middle" stroke="#141414" stroke-width="0.18" transform="rotate(-90 622 259.2)">ln r<tspan font-size="9.94" dy="2.8">x</tspan></text>
<text x="658" y="305.9" font-size="17" text-anchor="start" stroke="#141414" stroke-width="0.18" >87 ± 6 kJ/mol</text>
<text x="674.5" y="362.1" font-size="14.2" text-anchor="start" stroke="#141414" stroke-width="0.18" >1000/T [K<tspan font-size="10.6" dy="-3.7" dx="0.6">-1</tspan><tspan dy="3.7" dx="0.5">]</tspan></text>
</svg></div></body></html>
